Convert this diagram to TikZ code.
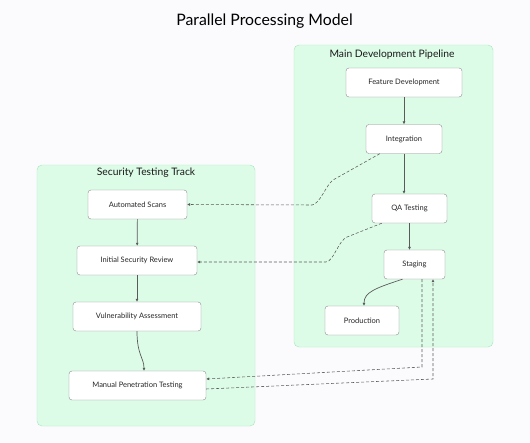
\documentclass[tikz,border=0pt]{standalone}
\usepackage{fontspec}
\setmainfont{Lato}
\usetikzlibrary{arrows.meta}
\usetikzlibrary{positioning}
\definecolor{pagebg}{HTML}{FBFAFD}
\definecolor{clusterfill}{HTML}{DCFCE7}
\definecolor{clusterline}{HTML}{A6E6BC}
\definecolor{boxline}{HTML}{8C8C8C}
\definecolor{edgegray}{HTML}{5A5A5A}
\tikzset{>=Latex}
\tikzstyle{line} = [draw, edgegray, line width=0.7pt, -{Latex[length=3pt,width=3pt]}]
\tikzstyle{link} = [line, line width=0.55pt, dash pattern=on 3pt off 2pt]

\begin{document}
\begin{tikzpicture}[x=1pt, y=-1pt,
		box/.style={draw=boxline, fill=white, rounded corners=3pt,
			minimum height=29pt, inner sep=0pt, text=black!85,
			font=\fontsize{7.5}{9}\selectfont},
		cluster/.style={draw=clusterline, fill=clusterfill, rounded corners=5pt, inner sep=0pt},
		title/.style={text=black!90, font=\fontsize{10.3}{12}\selectfont}]
		\fill [pagebg] (0,0) rectangle (530,442);
		\useasboundingbox (0,0) rectangle (530,442);
		\node [font=\fontsize{15.8}{18}\selectfont] at (264.5,21) (heading) {Parallel Processing Model};
		%% Clusters
		\node [cluster, minimum width=199pt, minimum height=302pt] at (393.5,196) (main) {};
		\node [title] at (392,55) (maintitle) {Main Development Pipeline};
		\node [cluster, minimum width=218pt, minimum height=261pt] at (146,295.5) (security) {};
		\node [title] at (146,173) (sectitle) {Security Testing Track};
		%% Pipeline
		\node [box, minimum width=116pt] at (404,82.5) (feature) {Feature Development};
		\node [box, minimum width=76pt] at (404,139) (integration) {Integration};
		\node [box, minimum width=75pt] at (409.5,208.5) (qa) {QA Testing};
		\node [box, minimum width=61pt] at (414.5,264.5) (staging) {Staging};
		\node [box, minimum width=74pt] at (362,320.5) (production) {Production};
		%% Security track
		\node [box, minimum width=99pt] at (137.5,204.5) (scans) {Automated Scans};
		\node [box, minimum width=120pt] at (137,260.5) (review) {Initial Security Review};
		\node [box, minimum width=128pt] at (137,316.5) (vuln) {Vulnerability Assessment};
		\node [box, minimum width=137pt] at (137.5,385.5) (pentest) {Manual Penetration Testing};
		%% Bends
		\coordinate (b1) at (333,180);
		\coordinate (b2) at (312,205);
		\coordinate (b3) at (347,237);
		\coordinate (b4) at (326,262);
		\coordinate (b5) at (422,367);
		\coordinate (b6) at (433,379);
		%% Flows
		\path [line] (feature) -- (integration);
		\path [line] (integration.south) -- (integration.south |- qa.north);
		\path [line] (qa.south) -- (qa.south |- staging.north);
		\path [line] ([xshift=-12pt]staging.south) .. controls (376,288) and (364,292) .. ([xshift=2pt]production.north);
		\path [line] (scans) -- (review);
		\path [line] (review) -- (vuln);
		\path [line] (vuln.south) .. controls (137,355) and (144,358) .. ([xshift=6.5pt]pentest.north);
		%% Links between tracks
		\path [link] ([xshift=14pt]integration.south west) -- (b1) .. controls (326,185) and (320,204) .. (b2) -- (scans.east);
		\path [link] ([xshift=10pt]qa.south west) -- (b3) .. controls (338,241) and (334,261) .. (b4) -- ([yshift=-1.5pt]review.east);
		\path [link] ([xshift=7.5pt]staging.south) -- (b5) -- ([yshift=6.5pt]pentest.east);
		\path [link] ([yshift=-3.5pt]pentest.east) -- (b6) -- ([xshift=18.5pt]staging.south);
	\end{tikzpicture}
\end{document}
